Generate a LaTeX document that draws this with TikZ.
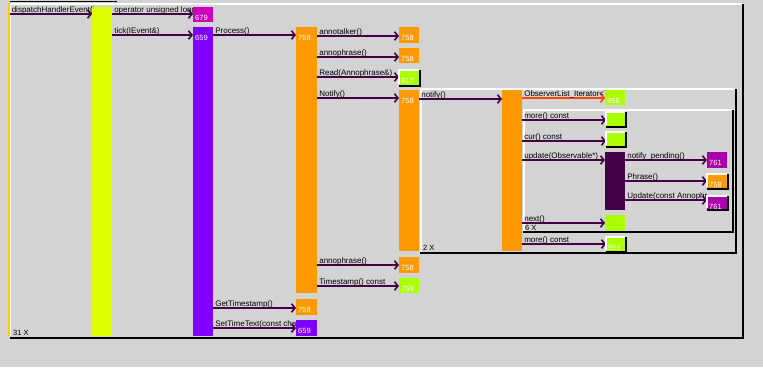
\documentclass[tikz,border=0pt]{standalone}
\usepackage{fontspec}
\setmainfont{Liberation Sans}
\usetikzlibrary{arrows.meta}

\pgfdeclarelayer{back}
\pgfsetlayers{back,main}

\definecolor{canvas}{HTML}{D3D3D3}
\definecolor{msgline}{HTML}{440044}
\definecolor{itermsg}{HTML}{FF4400}
\definecolor{lime}{HTML}{DDFF00}
\definecolor{grn}{HTML}{AAFF00}
\definecolor{mag}{HTML}{CC00BB}
\definecolor{magb}{HTML}{AA00AA}
\definecolor{vio}{HTML}{8000FF}
\definecolor{orng}{HTML}{FF9900}
\definecolor{plum}{HTML}{440044}
\definecolor{gold}{HTML}{FFCC00}

% activation box: name, x1, y1, x2, y2, colour
\newcommand{\actbox}[6]{%
  \node[actbox, fill=#6, minimum width={(#4-#2)*1pt}, minimum height={(#5-#3)*1pt}] (#1) at (#2,#3) {};}
% instance number printed inside a box
\newcommand{\boxnum}[2]{%
  \node[num] (#1-n) at ([xshift=2pt,yshift=-13pt]#1.north west) {#2};}
% raised look: light top/left edge, dark bottom/right edge
\newcommand{\bevel}[1]{%
  \draw[hilite] ([yshift=0.75pt]#1.south west) -- (#1.north west) -- (#1.north east);
  \draw[shade] ([xshift=1pt]#1.north east) -- ([xshift=1pt,yshift=-1pt]#1.south east) -- ([yshift=-1pt]#1.south west);}
% call arrow with its label: [colour]{label name}{from}{to}{y}{text}
\newcommand{\callmsg}[6][msgline]{%
  \begin{pgfonlayer}{back}
  \draw[msg, draw=#1] (#3.east |- 0,#5) -- node[lbl, pos=0, xshift=1.5pt, yshift=2pt] (#2) {#6} (#4.west |- 0,#5);
  \end{pgfonlayer}}

\begin{document}
\begin{tikzpicture}[x=1pt,y=-1pt,
  actbox/.style={rectangle, inner sep=0pt, outer sep=0pt, draw=none, anchor=north west},
  num/.style={anchor=base west, inner sep=0pt, text=white, font=\fontsize{7.5}{8}\selectfont},
  lbl/.style={anchor=base west, inner sep=0pt, text=black, font=\fontsize{8}{9}\selectfont},
  loopmark/.style={anchor=base west, inner sep=0pt, text=black, font=\fontsize{7.5}{8}\selectfont},
  msg/.style={line width=1.6pt, -{Straight Barb[length=3.5pt, width=8.5pt, line width=1.6pt]}},
  hilite/.style={white, line width=1.5pt},
  shade/.style={black, line width=2pt},
  frameW/.style={white, line width=1.5pt},
  frameB/.style={black, line width=2pt}]

\useasboundingbox (0,0) rectangle (763,367);

% canvas and interaction frames
\begin{pgfonlayer}{back}
  \fill[canvas] (0,0) rectangle (763,367);
  % outer frame (31 X)
  \draw[gold, line width=2pt] (8.5,3) -- (8.5,336);
  \draw[white, line width=0.8pt] (10.2,4) -- (10.2,336);
  \draw[black, line width=1.5pt] (10,1.5) -- (117,1.5);
  \draw[frameW] (10,4) -- (743,4);
  \draw[frameB] (743,4) -- (743,338.5);
  \draw[frameB] (10,337.5) -- (744,337.5);
  % loop frame (2 X)
  \draw[frameW] (420.8,252) -- (420.8,89) -- (735,89);
  \draw[frameB] (735.5,89) -- (735.5,253.5);
  \draw[frameB] (420,252.5) -- (736.5,252.5);
  % loop frame (6 X)
  \draw[frameW] (523.8,232) -- (523.8,110) -- (733,110);
  \draw[frameB] (733,110) -- (733,233);
  \draw[frameB] (523,232) -- (734,232);
\end{pgfonlayer}

\node[loopmark] (loop31) at (13,335.5) {31 X};
\node[loopmark] (loop2) at (423,250.5) {2 X};
\node[loopmark] (loop6) at (525,230.5) {6 X};

% activations
\actbox{yel}{92}{7}{112}{336}{lime}
\actbox{b679}{193}{7}{213}{22}{mag}
\actbox{b659}{193}{27}{213}{336}{vio}
\actbox{proc}{296}{27}{317}{293}{orng}
\actbox{talk}{399}{27}{419}{43}{orng}
\actbox{phra}{399}{48}{419}{63}{orng}
\actbox{read}{399}{70}{419}{85}{grn}
\actbox{notif}{399}{90}{419}{251}{orng}
\actbox{phrb}{399}{257}{419}{273}{orng}
\actbox{tstamp}{399}{278}{419}{293}{grn}
\actbox{gts}{296}{299}{317}{315}{orng}
\actbox{stt}{296}{320}{317}{336}{vio}
\actbox{obs}{502}{90}{522}{251}{orng}
\actbox{iter}{605}{90}{625}{105}{grn}
\actbox{morea}{606}{112}{625}{126}{grn}
\actbox{cur}{606}{132}{625}{146}{grn}
\actbox{upd}{605}{152}{625}{210}{plum}
\actbox{npend}{707}{152}{727}{168}{magb}
\actbox{phc}{707}{174}{727}{188}{orng}
\actbox{updc}{707}{196}{727}{209}{magb}
\actbox{nxt}{605}{215}{625}{231}{grn}
\actbox{moreb}{606}{237}{625}{251}{grn}

\bevel{read}
\bevel{morea}
\bevel{cur}
\bevel{phc}
\bevel{updc}
\bevel{moreb}

\boxnum{b679}{679}
\boxnum{b659}{659}
\boxnum{proc}{758}
\boxnum{talk}{758}
\boxnum{phra}{758}
\boxnum{read}{817}
\boxnum{notif}{758}
\boxnum{phrb}{758}
\boxnum{tstamp}{759}
\boxnum{gts}{758}
\boxnum{stt}{659}
\boxnum{iter}{956}
\boxnum{npend}{761}
\boxnum{phc}{758}
\boxnum{updc}{761}
\boxnum{moreb}{956}

% calls
\coordinate (entry) at (10,14);
\begin{pgfonlayer}{back}
  \draw[msg, draw=msgline] (entry) -- node[lbl, pos=0, xshift=1pt, yshift=2pt] (l-dispatch) {dispatchHandlerEvent()} (yel.west |- entry);
\end{pgfonlayer}
\callmsg{l-op}{yel}{b679}{14}{operator unsigned long}
\callmsg{l-tick}{yel}{b659}{35}{tick(IEvent\&)}
\callmsg{l-process}{b659}{proc}{35}{Process()}
\callmsg{l-talker}{proc}{talk}{36}{annotalker()}
\callmsg{l-phra}{proc}{phra}{57}{annophrase()}
\callmsg{l-read}{proc}{read}{77}{Read(Annophrase\&)}
\callmsg{l-Notify}{proc}{notif}{98}{Notify()}
\callmsg{l-notify}{notif}{obs}{99}{notify()}
\callmsg[itermsg]{l-iter}{obs}{iter}{98}{ObserverList\_Iterator<}
\callmsg{l-morea}{obs}{morea}{120}{more() const}
\callmsg{l-cur}{obs}{cur}{141}{cur() const}
\callmsg{l-upd}{obs}{upd}{160}{update(Observable*)}
\callmsg{l-npend}{upd}{npend}{160}{notify\_pending()}
\callmsg{l-phc}{upd}{phc}{181}{Phrase()}
\callmsg{l-updc}{upd}{updc}{200}{Update(const Annophr}
\callmsg{l-next}{obs}{nxt}{223}{next()}
\callmsg{l-moreb}{obs}{moreb}{244}{more() const}
\callmsg{l-phrb}{proc}{phrb}{265}{annophrase()}
\callmsg{l-ts}{proc}{tstamp}{286}{Timestamp() const}
\callmsg{l-gts}{b659}{gts}{308}{GetTimestamp()}
\callmsg{l-stt}{b659}{stt}{328}{SetTimeText(const char}

\end{tikzpicture}
\end{document}
